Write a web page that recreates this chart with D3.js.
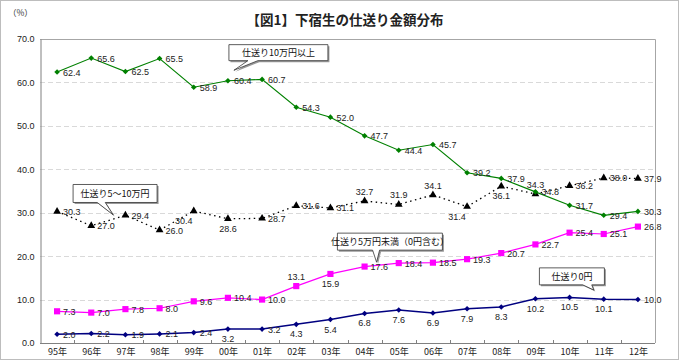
<!DOCTYPE html>
<html><head><meta charset="utf-8">
<script src="https://cdn.jsdelivr.net/npm/d3@7/dist/d3.min.js"></script>
<style>
body{margin:0;background:#fff;}
svg{display:block;font-family:"Liberation Sans","Noto Sans CJK JP",sans-serif;}
</style></head>
<body><svg id="c" width="680" height="361"></svg>
<script>
const categories = ["95年","96年","97年","98年","99年","00年","01年","02年","03年","04年","05年","06年","07年","08年","09年","10年","11年","12年"];
const over10 = [62.4,65.6,62.5,65.5,58.9,60.4,60.7,54.3,52.0,47.7,44.4,45.7,39.2,37.9,34.8,31.7,29.4,30.3];
const from5to10 = [30.3,27.0,29.4,26.0,30.4,28.6,28.7,31.6,31.1,32.7,31.9,34.1,31.4,36.1,34.3,36.2,38.0,37.9];
const under5 = [7.3,7.0,7.8,8.0,9.6,10.4,10.0,13.1,15.9,17.6,18.4,18.5,19.3,20.7,22.7,25.4,25.1,26.8];
const zero = [2.0,2.2,1.9,2.1,2.4,3.2,3.2,4.3,5.4,6.8,7.6,6.9,7.9,8.3,10.2,10.5,10.1,10.0];
const yTicks = [0,10,20,30,40,50,60,70];
const seriesNames = ["仕送り10万円以上","仕送り5～10万円","仕送り5万円未満（0円含む）","仕送り0円"];
const title = "【図1】下宿生の仕送り金額分布";

// label placements (r=right, b=below, t=above, bl=below-left)
const posOver10 = categories.map(()=> "r");
const pos5to10 = ["r","r","r","r","bl","b","r","r","r","t","t","t","bl","b","t","r","r","r"];
const posUnder5 = ["r","r","r","r","r","r","r","t","b","r","r","r","r","r","r","r","r","r"];
const posZero = ["r","r","r","r","r","b","r","b","b","b","b","b","b","b","b","b","b","r"];

const svg = d3.select("#c");
const L=40,R=655,T=39,B=343;
const x = d3.scalePoint().domain(categories).range([L,R]).padding(0.5);
const y = d3.scaleLinear().domain([0,70]).range([B,T]);
const step = x.step();

svg.append("rect").attr("x",0.5).attr("y",0.5).attr("width",678).attr("height",359)
  .attr("fill","none").attr("stroke","#bdbdbd");

svg.append("text").attr("x",345).attr("y",25).attr("text-anchor","middle")
  .attr("font-size",13.5).attr("font-weight","bold").attr("fill","#222")
  .attr("font-family","'Noto Sans CJK JP',sans-serif").text(title);
svg.append("text").attr("x",8).attr("y",16).attr("font-size",8.5).attr("fill","#333")
  .attr("font-family","'Noto Sans CJK JP',sans-serif").text("（%）");

svg.append("g").selectAll("line").data(yTicks.filter(v=>v>0&&v<70)).join("line")
  .attr("x1",L).attr("x2",R).attr("y1",d=>Math.round(y(d))+0.5).attr("y2",d=>Math.round(y(d))+0.5)
  .attr("stroke","#d9d9d9").attr("stroke-dasharray","5,3");

svg.append("path").attr("d",`M${L},${T+0.5}H${R+0.5}V${B}`).attr("fill","none").attr("stroke","#a6a6a6");

const ya = svg.append("g").attr("transform",`translate(${L+0.5},0)`)
  .call(d3.axisLeft(y).tickValues(yTicks).tickFormat(d3.format(".1f")).tickSize(0).tickPadding(6));
ya.select(".domain").attr("stroke","#808080");
ya.selectAll("text").attr("font-size",9).attr("fill","#222");

const xa = svg.append("g").attr("transform",`translate(0,${B+0.5})`)
  .call(d3.axisBottom(x).tickSize(0).tickPadding(5));
xa.select(".domain").attr("stroke","#808080").attr("d",`M${L},0H${R}`);
xa.selectAll("text").attr("font-size",9).attr("fill","#222").attr("font-family","'Noto Sans CJK JP',sans-serif");
svg.append("g").selectAll("line").data(d3.range(1,categories.length)).join("line")
  .attr("x1",i=>Math.round(L+i*step)+0.5).attr("x2",i=>Math.round(L+i*step)+0.5)
  .attr("y1",B).attr("y2",B-3).attr("stroke","#808080");

const line = d3.line().x((d,i)=>x(categories[i])).y(d=>y(d));

function drawSeries(vals, color, width, dash, marker, size, pos){
  const g = svg.append("g");
  g.append("path").datum(vals).attr("d",line).attr("fill","none").attr("stroke",color)
    .attr("stroke-width",width).attr("stroke-dasharray",dash||null);
  g.selectAll("path.m").data(vals).join("path").attr("class","m")
    .attr("d",d3.symbol().type(marker).size(size))
    .attr("transform",(d,i)=>`translate(${x(categories[i])},${y(d)})`)
    .attr("fill",color);
  g.selectAll("text").data(vals).join("text")
    .attr("font-size",9).attr("fill","#222")
    .attr("x",(d,i)=>{const p=pos[i],cx=x(categories[i]);
      return p==="r"?cx+6:p==="bl"?cx-10:cx;})
    .attr("y",(d,i)=>{const p=pos[i],cy=y(d);
      return p==="r"?cy+3.5:p==="t"?cy-6:cy+13;})
    .attr("text-anchor",(d,i)=>pos[i]==="r"?"start":"middle")
    .text(d=>d.toFixed(1));
}
drawSeries(from5to10,"#000",1.3,"1.5,3.5",d3.symbolTriangle,26,pos5to10);
drawSeries(over10,"#008000",1.1,null,d3.symbolDiamond2,20,posOver10);
drawSeries(under5,"#ff00ff",1.2,null,d3.symbolSquare,38,posUnder5);
drawSeries(zero,"#000080",1.5,null,d3.symbolDiamond2,20,posZero);

function callout(text, bx, by, w, h, tx, ty, t1, t2){
  const g = svg.append("g");
  const p = d3.path();
  p.moveTo(bx,by); p.lineTo(bx+w,by); p.lineTo(bx+w,by+h);
  p.lineTo(t2,by+h); p.lineTo(tx,ty); p.lineTo(t1,by+h);
  p.lineTo(bx,by+h); p.closePath();
  g.append("path").attr("d",p.toString()).attr("transform","translate(1.5,1.5)").attr("fill","#999");
  g.append("path").attr("d",p.toString()).attr("fill","#fff").attr("stroke","#333").attr("stroke-width",0.8);
  g.append("text").attr("x",bx+w/2).attr("y",by+h/2+3.5).attr("text-anchor","middle")
    .attr("font-size",9).attr("fill","#111").attr("font-family","'Noto Sans CJK JP',sans-serif").text(text);
}
const cx = i=>x(categories[i]);
callout(seriesNames[0], cx(5)+1, y(68.7), 99, 16, cx(5)+6, y(62.8), cx(5)+20, cx(5)+30);
callout(seriesNames[1], cx(0)+16, y(36.5), 84, 18, cx(1)+22, y(29.5), cx(1)+6, cx(1)+14);
callout(seriesNames[2], cx(8)+7, y(25.3), 105, 17, cx(9)+12, y(18.6), cx(9)+8, cx(9)+15);
callout(seriesNames[3], cx(14)+4, y(17.3), 65, 17, cx(16)-10, y(12.2), cx(16)-21, cx(16)-12);
</script></body></html>
